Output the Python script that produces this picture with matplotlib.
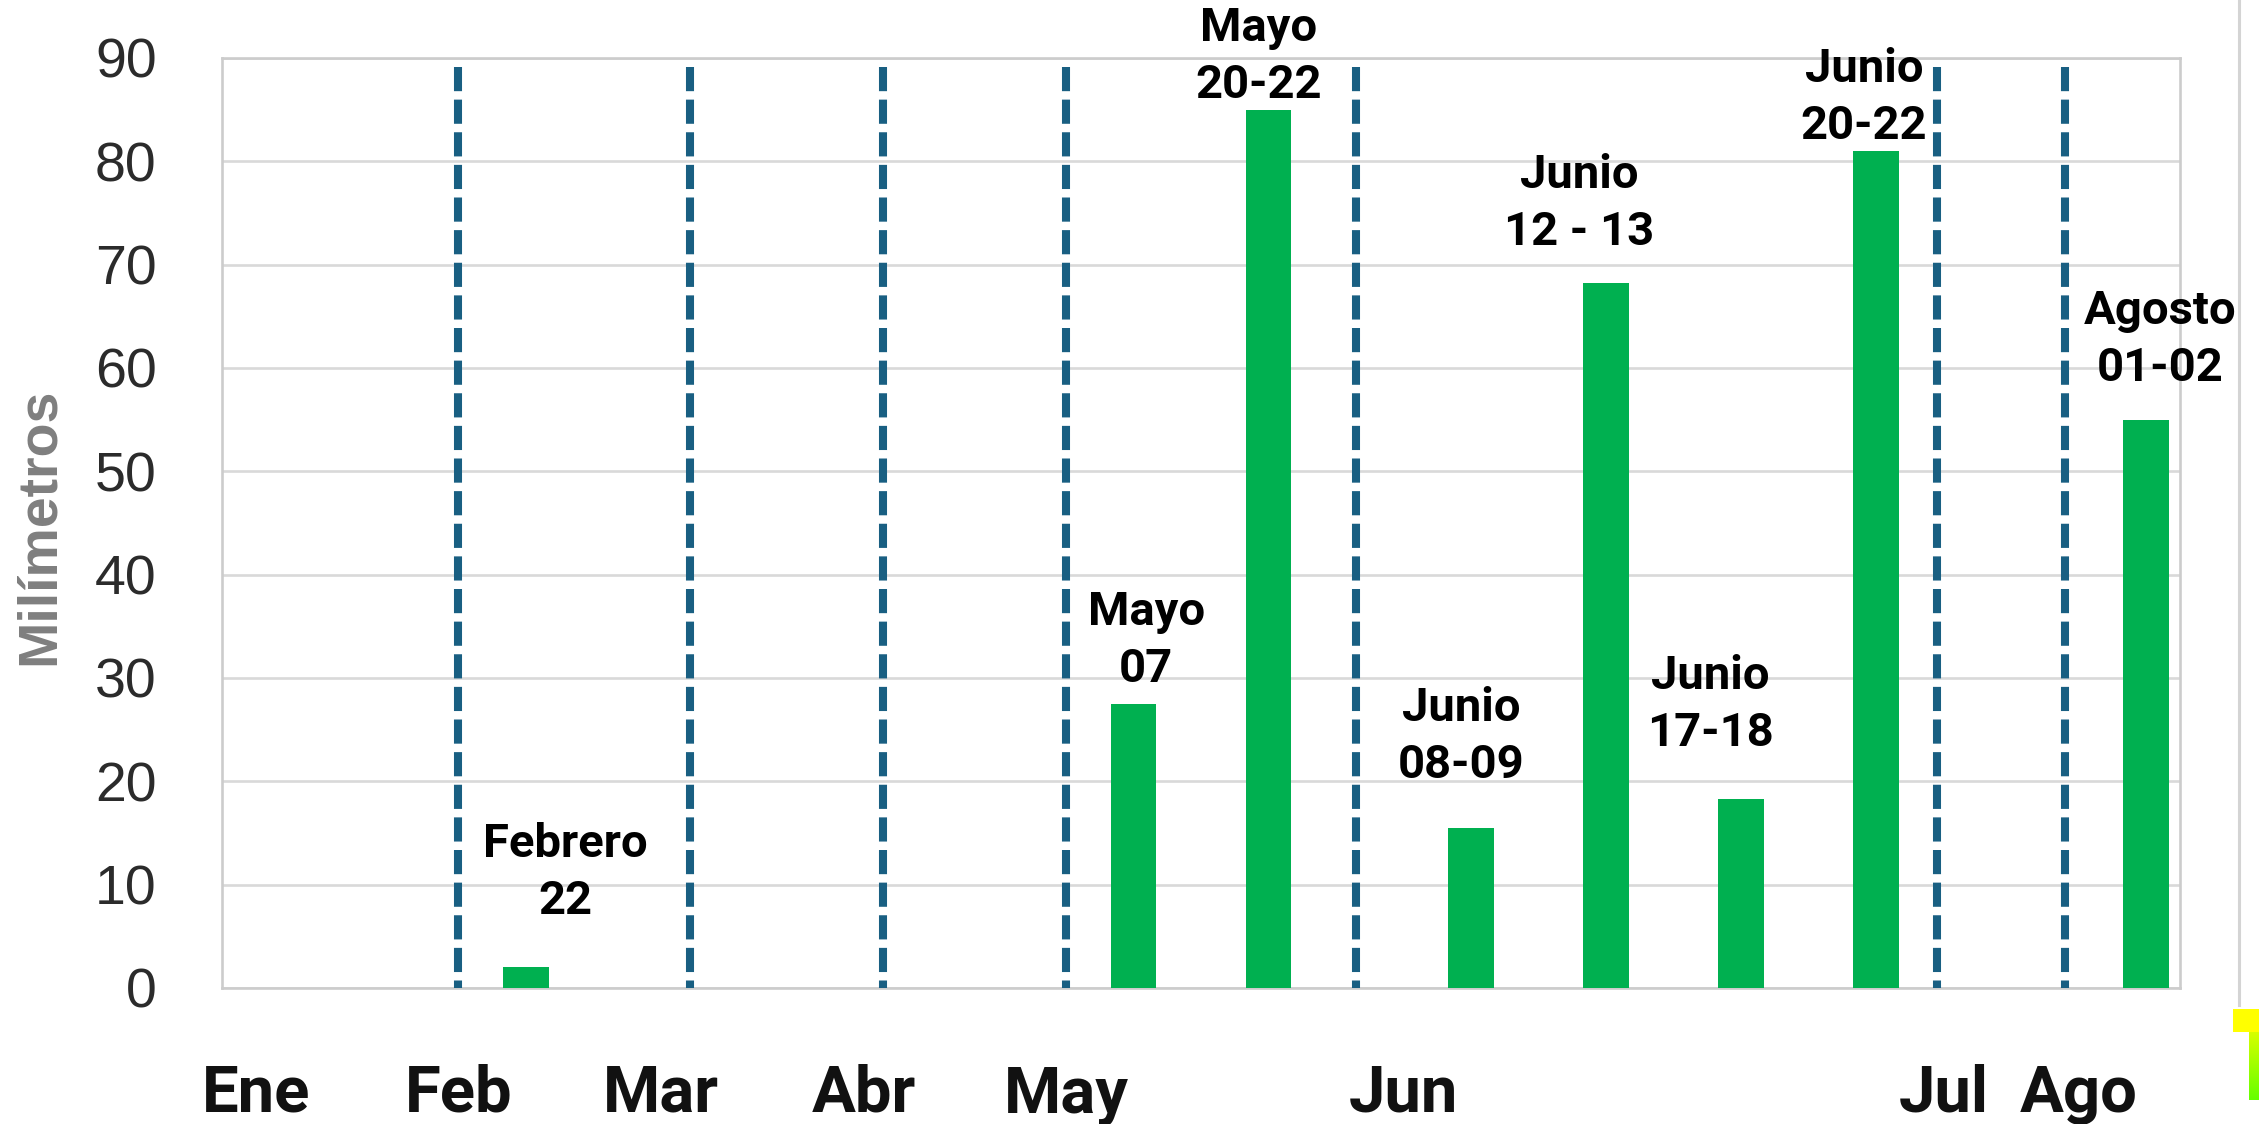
import matplotlib
matplotlib.use("Agg")
import matplotlib.pyplot as plt
import matplotlib.transforms as mtransforms
from matplotlib.patches import Rectangle
from matplotlib.colors import LinearSegmentedColormap
import numpy as np

# Rainfall events (mm) placed on a 29-slot category axis
event_slots = [4, 13, 15, 18, 20, 22, 24, 28]
event_mm = [2.0, 27.5, 85.0, 15.5, 68.2, 18.3, 81.0, 55.0]
event_labels = ["Febrero\n22", "Mayo\n07", "Mayo\n20-22", "Junio\n08-09",
                "Junio\n12 - 13", "Junio\n17-18", "Junio\n20-22", "Agosto\n01-02"]

# Month names along the bottom
month_slots = [0, 3, 6, 9, 12, 17, 25, 27]
month_labels = ["Ene", "Feb", "Mar", "Abr", "May", "Jun", "Jul", "Ago"]

# Month separators (dashed)
separator_slots = [3.0, 6.43, 9.29, 12.0, 16.3, 24.9, 26.8]

y_ticks = list(range(0, 91, 10))

# Event label placement: shift in slots, gap above the bar (mm) to the last baseline
label_dx = [0.58, 0.19, -0.15, -0.15, -0.40, -0.46, -0.18, 0.21]
label_dy = [5.16, 2.11, 1.13, 4.82, 3.7, 5.12, 1.16, 3.74]

W, H = 2259, 1124
fig = plt.figure(figsize=(W / 100, H / 100), dpi=100)
fig.patch.set_facecolor("white")

ax = fig.add_axes([222 / W, 1 - 988 / H, (2180 - 222) / W, (988 - 58) / H])
ax.set_xlim(-0.5, 28.5)
ax.set_ylim(0, 90)
ax.set_axisbelow(True)

grid_c = "#d9d9d9"
ax.yaxis.grid(True, color=grid_c, linewidth=1.9)
ax.xaxis.grid(False)
for side in ["left", "right", "top", "bottom"]:
    ax.spines[side].set_color("#cccccc")
    ax.spines[side].set_linewidth(1.9)

ax.set_yticks(y_ticks)
ax.set_yticklabels([str(v) for v in y_ticks],
                   fontfamily=["Liberation Sans", "DejaVu Sans"],
                   fontsize=40, color="#2b2b2b")
ax.tick_params(axis="y", length=0, pad=47)
ax.set_xticks([])

# Bars
ax.bar(event_slots, event_mm, width=0.68, color="#00b050", zorder=3)

# Separators
sep_top = 89.1
for s in separator_slots:
    ax.plot([s, s], [sep_top, 0], color="#195f82", linewidth=5.8,
            dashes=(3, 1.05), solid_capstyle="butt", dash_capstyle="butt",
            zorder=4, clip_on=False)

bold_font = ["Roboto", "DejaVu Sans"]

# Event labels
for x, v, lab, dx, dy in zip(event_slots, event_mm, event_labels, label_dx, label_dy):
    ax.text(x + dx, v + dy, lab, ha="center", va="baseline",
            fontfamily=bold_font, fontweight="bold", fontsize=34,
            linespacing=1.38, color="black", zorder=5, clip_on=False)

# Month names
trans = mtransforms.blended_transform_factory(ax.transData, ax.transAxes)
month_y = (988 - 1112) / (988 - 58)
for x, m in zip(month_slots, month_labels):
    ax.text(x, month_y, m, transform=trans, ha="center", va="baseline",
            fontfamily=bold_font, fontweight="bold", fontsize=47,
            color="#111111", clip_on=False)

# Axis title
fig.text(40 / W, 1 - 526 / H, "Milímetros", rotation=90, ha="center", va="center",
         fontfamily=["Liberation Sans", "DejaVu Sans"], fontweight="bold",
         fontsize=40, color="#7f7f7f")

# Outer chart frame edge
fig.add_artist(plt.Line2D([2239 / W, 2239 / W], [1.0, 1 - 1005 / H],
                          color="#d4d4d4", linewidth=2.2))

# Corner marker
fig.add_artist(Rectangle((2233 / W, 1 - 1032 / H), (W - 2233) / W, 23 / H,
                         facecolor="#ffff00", edgecolor="none"))
gax = fig.add_axes([2249 / W, 1 - 1100 / H, (W - 2249) / W, (1100 - 1009) / H])
grad = np.linspace(0, 1, 64).reshape(-1, 1)
cmap = LinearSegmentedColormap.from_list("yg", ["#ffff00", "#66ff00"])
gax.imshow(grad, aspect="auto", cmap=cmap, extent=(0, 1, 1, 0))
gax.set_axis_off()

fig.savefig("out.png", dpi=100, facecolor="white")
